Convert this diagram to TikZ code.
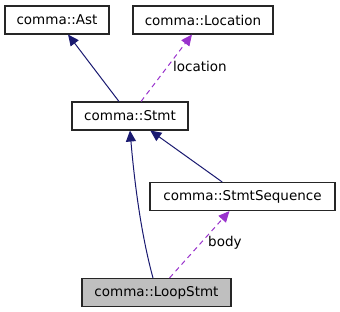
\documentclass[tikz,border=0pt]{standalone}
\usepackage{fontspec}
\setmainfont{DejaVu Sans}
\usetikzlibrary{arrows.meta,calc}
\definecolor{inhblue}{RGB}{25,25,112}
\definecolor{usepurple}{RGB}{153,50,204}

\begin{document}
\begin{tikzpicture}[
  x=1bp, y=-1bp,
  every node/.style={font=\fontsize{13.5bp}{16bp}\selectfont, inner sep=0pt},
  cls/.style={draw=black!85, line width=1.1bp, fill=white, minimum height=28bp},
  cur/.style={cls, fill=black!25},
  inh/.style={draw=inhblue, line width=1bp, -{Triangle[length=11bp, width=10bp]}},
  usage/.style={draw=usepurple, line width=1bp, dash pattern=on 5bp off 4bp, -{Triangle[length=11bp, width=10bp]}},
  lbl/.style={anchor=west}
]
\useasboundingbox (0,0) rectangle (340,312);

\node[cls] (ast)  at (57,20)      [minimum width=104bp] {comma::Ast};
\node[cls] (loc)  at (203,20)     [minimum width=140bp] {comma::Location};
\node[cls] (stmt) at (130,116)    [minimum width=116bp] {comma::Stmt};
\node[cls] (seq)  at (242.5,196.5)[minimum width=185bp] {comma::StmtSequence};
\node[cur] (loop) at (156.5,292.5)[minimum width=149bp] {comma::LoopStmt};

\draw[inh] (stmt) -- (ast);
\draw[usage] (stmt) -- (loc);
\node[lbl] (loclbl) at (173,66) {location};

\draw[inh] (seq) -- (stmt);
\draw[inh] ($(loop.north)+(-3.5,0)$) .. controls (144,245) and (136,200) .. (stmt.south);
\draw[usage] (loop) -- (seq);
\node[lbl] (bodylbl) at (208,243) {body};
\end{tikzpicture}
\end{document}
